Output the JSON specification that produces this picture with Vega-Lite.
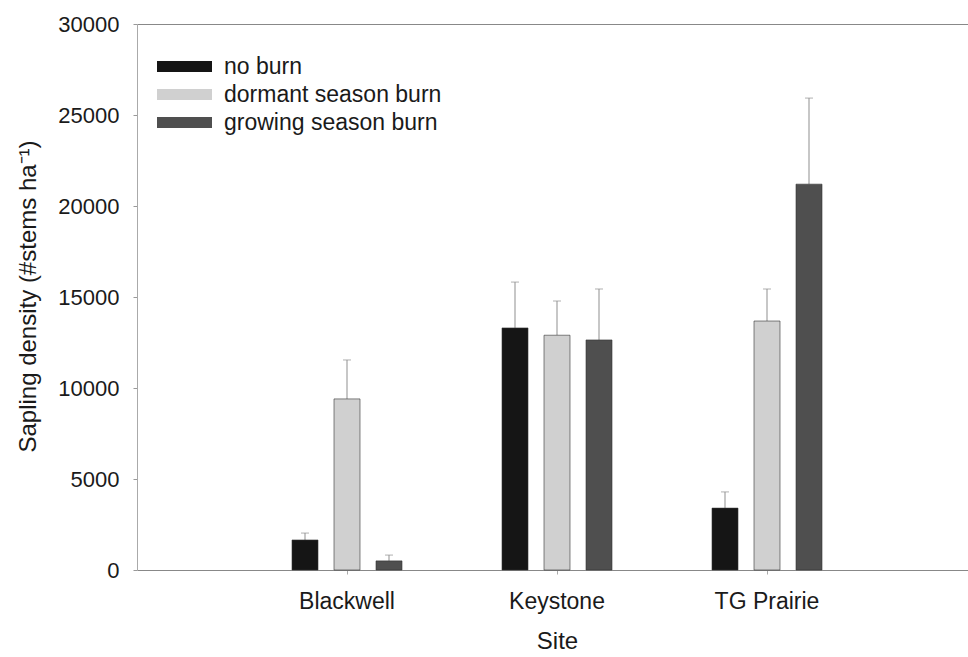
{
  "$schema": "https://vega.github.io/schema/vega-lite/v6.json",
  "width": 831,
  "height": 546,
  "autosize": {"type": "none"},
  "padding": {"left": 137, "top": 24, "right": 0, "bottom": 87},
  "background": "white",
  "config": {
    "view": {"stroke": null},
    "font": "Liberation Sans",
    "axis": {"labelFont": "Liberation Sans", "titleFont": "Liberation Sans", "titleFontWeight": "normal"}
  },
  "data": {
    "values": [
      {"site": "Blackwell", "treatment": "no burn", "mean": 1650, "upper": 2030},
      {"site": "Blackwell", "treatment": "dormant season burn", "mean": 9400, "upper": 11540},
      {"site": "Blackwell", "treatment": "growing season burn", "mean": 500, "upper": 820},
      {"site": "Keystone", "treatment": "no burn", "mean": 13300, "upper": 15820},
      {"site": "Keystone", "treatment": "dormant season burn", "mean": 12900, "upper": 14780},
      {"site": "Keystone", "treatment": "growing season burn", "mean": 12640, "upper": 15440},
      {"site": "TG Prairie", "treatment": "no burn", "mean": 3400, "upper": 4290},
      {"site": "TG Prairie", "treatment": "dormant season burn", "mean": 13680, "upper": 15440},
      {"site": "TG Prairie", "treatment": "growing season burn", "mean": 21200, "upper": 25930}
    ]
  },
  "encoding": {
    "x": {
      "field": "site",
      "type": "nominal",
      "sort": ["Blackwell", "Keystone", "TG Prairie"],
      "scale": {"range": [0, 840], "paddingInner": 0, "paddingOuter": 0.5},
      "axis": {
        "title": "Site",
        "labelAngle": 0,
        "labelFontSize": 23,
        "labelColor": "#1a1a1a",
        "labelPadding": 16,
        "tickSize": 4,
        "tickColor": "#aaaaaa",
        "domainColor": "#888888",
        "titleFontSize": 24,
        "titleColor": "#1a1a1a",
        "titlePadding": 16
      }
    },
    "xOffset": {
      "field": "treatment",
      "type": "nominal",
      "sort": ["no burn", "dormant season burn", "growing season burn"],
      "scale": {"paddingInner": 0, "paddingOuter": 1}
    }
  },
  "layer": [
    {
      "mark": {"type": "rule", "color": "#8f8f8f", "strokeWidth": 1},
      "encoding": {
        "y": {"field": "mean", "type": "quantitative"},
        "y2": {"field": "upper"}
      }
    },
    {
      "mark": {"type": "bar", "width": 26, "stroke": "#333333", "strokeWidth": 0.6},
      "encoding": {
        "y": {
          "field": "mean",
          "type": "quantitative",
          "scale": {"domain": [0, 30000], "nice": false},
          "axis": {
            "title": "Sapling density (#stems ha⁻¹)",
            "values": [0, 5000, 10000, 15000, 20000, 25000, 30000],
            "format": "d",
            "labelFontSize": 22,
            "labelColor": "#1a1a1a",
            "labelPadding": 14,
            "tickSize": 4,
            "tickColor": "#999999",
            "domainColor": "#aaaaaa",
            "grid": true,
            "gridColor": "#888888",
            "gridOpacity": {"condition": {"test": "datum.value === 30000", "value": 1}, "value": 0},
            "titleFontSize": 24,
            "titleColor": "#1a1a1a",
            "titleX": -97,
            "titleY": 272,
            "titleBaseline": "bottom"
          }
        },
        "color": {
          "field": "treatment",
          "type": "nominal",
          "sort": ["no burn", "dormant season burn", "growing season burn"],
          "scale": {
            "domain": ["no burn", "dormant season burn", "growing season burn"],
            "range": ["#151515", "#d0d0d0", "#4f4f4f"]
          },
          "legend": {
            "title": null,
            "orient": "none",
            "legendX": 14,
            "legendY": 31,
            "padding": 0,
            "symbolType": "M-1,-1H9V1H-1Z",
            "symbolSize": 121,
            "symbolStrokeWidth": 0,
            "labelFontSize": 23,
            "labelColor": "#1a1a1a",
            "labelLimit": 400,
            "labelOffset": 50,
            "rowPadding": 4
          }
        }
      }
    },
    {
      "mark": {"type": "tick", "orient": "horizontal", "size": 8, "thickness": 1, "color": "#8f8f8f"},
      "encoding": {
        "y": {"field": "upper", "type": "quantitative"}
      }
    }
  ]
}
